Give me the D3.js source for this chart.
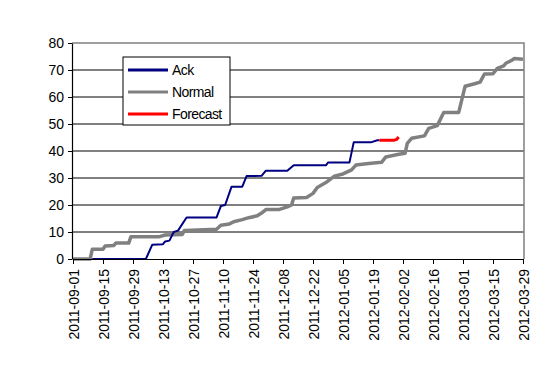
<!DOCTYPE html>
<html>
<head>
<meta charset="utf-8">
<script src="https://cdn.jsdelivr.net/npm/d3@7"></script>
<style>
  body { margin: 0; background: #fff; }
  text { font-family: "Liberation Sans", Arial, sans-serif; }
</style>
</head>
<body>
<div id="chart"></div>
<script>
// 1: DATA
const tickLabels = ["2011-09-01", "2011-09-15", "2011-09-29", "2011-10-13", "2011-10-27",
    "2011-11-10", "2011-11-24", "2011-12-08", "2011-12-22", "2012-01-05", "2012-01-19",
    "2012-02-02", "2012-02-16", "2012-03-01", "2012-03-15", "2012-03-29"];
const yTicks = [0, 10, 20, 30, 40, 50, 60, 70, 80];

const ackDates = ["2011-09-10", "2011-10-05", "2011-10-08", "2011-10-13", "2011-10-14",
    "2011-10-16", "2011-10-18", "2011-10-20", "2011-10-24", "2011-11-07", "2011-11-09",
    "2011-11-11", "2011-11-14", "2011-11-19", "2011-11-21", "2011-11-28", "2011-11-30",
    "2011-12-10", "2011-12-13", "2011-12-28", "2011-12-29", "2012-01-08", "2012-01-10",
    "2012-01-18", "2012-01-21", "2012-01-22"];
const ackValues = [0, 0, 5.3, 5.5, 6.5, 6.8, 10, 10.5, 15.4, 15.4, 19.6,
    20, 26.8, 26.8, 30.7, 30.8, 32.7, 32.7, 34.7, 34.7, 35.7, 35.7, 43.2,
    43.2, 44, 44];

const normalDates = ["2011-09-01", "2011-09-09", "2011-09-10", "2011-09-15", "2011-09-16",
    "2011-09-20", "2011-09-21", "2011-09-27", "2011-09-28", "2011-10-11", "2011-10-14",
    "2011-10-22", "2011-10-23", "2011-11-07", "2011-11-09", "2011-11-13", "2011-11-15",
    "2011-11-19", "2011-11-22", "2011-11-26", "2011-11-28", "2011-11-30", "2011-12-06",
    "2011-12-10", "2011-12-12", "2011-12-13", "2011-12-19", "2011-12-22", "2011-12-24",
    "2011-12-28", "2012-01-01", "2012-01-05", "2012-01-09", "2012-01-11", "2012-01-17",
    "2012-01-23", "2012-01-25", "2012-01-31", "2012-02-03", "2012-02-04", "2012-02-06",
    "2012-02-12", "2012-02-14", "2012-02-18", "2012-02-21", "2012-02-28", "2012-03-02",
    "2012-03-06", "2012-03-09", "2012-03-11", "2012-03-15", "2012-03-17", "2012-03-20",
    "2012-03-21", "2012-03-24", "2012-03-25", "2012-03-29"];
const normalValues = [0, 0, 3.6, 3.6, 4.8, 5, 5.9, 5.9, 8.2, 8.2, 8.9,
    9.1, 10.6, 11, 12.5, 13, 13.8, 14.6, 15.3, 16, 17, 18.3, 18.3,
    19.3, 20, 22.6, 22.8, 24.3, 26.5, 28.3, 30.7, 31.5, 33, 34.8, 35.4,
    35.8, 37.8, 38.8, 39.2, 42.8, 44.7, 45.6, 48.4, 49.4, 54.3, 54.3, 64,
    64.8, 65.5, 68.5, 68.6, 70.6, 71.5, 72.5, 73.7, 74.3, 74];

const forecastDates = ["2012-01-22", "2012-01-29", "2012-01-30", "2012-01-31"];
const forecastValues = [44, 44, 44.3, 45.2];

const seriesNames = ["Ack", "Normal", "Forecast"];
const seriesColors = ["#000080", "#808080", "#ff0000"];
const seriesWidths = [2, 3.5, 3];

// 2: SETUP
const W = 560, H = 373;
const plot = { left: 72, right: 524, top: 43, bottom: 259 };
const parse = d3.utcParse("%Y-%m-%d");

const svg = d3.select("#chart").append("svg")
    .attr("width", W)
    .attr("height", H);

const x = d3.scaleUtc()
    .domain([parse(tickLabels[0]), parse(tickLabels[tickLabels.length - 1])])
    .range([73, 523]);

const y = d3.scaleLinear()
    .domain([0, 80])
    .range([plot.bottom, plot.top]);

// 3: GRID + FRAME
svg.append("g")
    .selectAll("line")
    .data(yTicks.filter(d => d > 0 && d < 80))
    .enter()
    .append("line")
    .attr("x1", plot.left)
    .attr("x2", plot.right)
    .attr("y1", d => y(d))
    .attr("y2", d => y(d))
    .attr("stroke", "#000")
    .attr("stroke-width", 1);

svg.append("path")
    .attr("d", `M${plot.left},${y(80)}H${plot.right}V${plot.bottom}`)
    .attr("fill", "none")
    .attr("stroke", "#808080")
    .attr("stroke-width", 1.5);

// 4: LINES
const line = d3.line()
    .x(d => x(d.date))
    .y(d => y(d.value));

const toPoints = (dates, values) => dates.map((d, i) => ({ date: parse(d), value: values[i] }));
const series = [
    toPoints(ackDates, ackValues),
    toPoints(normalDates, normalValues),
    toPoints(forecastDates, forecastValues)
];

// draw Normal first, then Ack, then Forecast
[1, 0, 2].forEach(i => {
    svg.append("path")
        .datum(series[i])
        .attr("fill", "none")
        .attr("stroke", seriesColors[i])
        .attr("stroke-width", seriesWidths[i])
        .attr("stroke-linejoin", "round")
        .attr("d", line);
});

// 5: AXES
const yAxis = svg.append("g")
    .attr("transform", `translate(${plot.left},0)`)
    .call(d3.axisLeft(y).tickValues(yTicks).tickSize(4).tickPadding(4).tickSizeOuter(0));

const xAxis = svg.append("g")
    .attr("transform", `translate(0,${plot.bottom})`)
    .call(d3.axisBottom(x)
        .tickValues(tickLabels.map(parse))
        .tickFormat(d3.utcFormat("%Y-%m-%d"))
        .tickSize(5)
        .tickSizeOuter(0));

[yAxis, xAxis].forEach(g => {
    g.select(".domain").attr("stroke", "#000").attr("stroke-width", 1.2);
    g.selectAll(".tick line").attr("stroke", "#000");
    g.selectAll("text")
        .attr("fill", "#000")
        .style("font-size", "14px")
        .style("font-family", "'Liberation Sans', Arial, sans-serif");
});

xAxis.selectAll("text")
    .attr("transform", "rotate(-90)")
    .attr("text-anchor", "end")
    .attr("x", -10)
    .attr("y", 1)
    .attr("dy", "0.35em");

// 6: LEGEND
const legend = svg.append("g").attr("transform", "translate(123,57)");
legend.append("rect")
    .attr("width", 107)
    .attr("height", 68)
    .attr("fill", "#fff")
    .attr("stroke", "#000")
    .attr("stroke-width", 1);

seriesNames.forEach((name, i) => {
    const ly = 13 + i * 22;
    legend.append("line")
        .attr("x1", 5)
        .attr("x2", 45)
        .attr("y1", ly)
        .attr("y2", ly)
        .attr("stroke", seriesColors[i])
        .attr("stroke-width", 3);
    legend.append("text")
        .attr("x", 49)
        .attr("y", ly)
        .attr("dy", "0.35em")
        .style("font-size", "14px")
        .style("letter-spacing", "-0.6px")
        .text(name);
});
</script>
</body>
</html>
